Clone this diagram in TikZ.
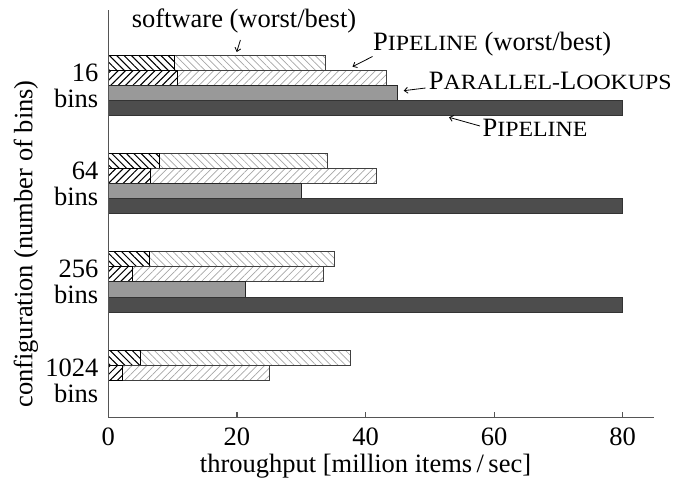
\documentclass[tikz,border=0pt]{standalone}
\usepackage{fontspec}
\setmainfont{Liberation Serif}
\usepackage{graphicx}
\usetikzlibrary{patterns.meta,arrows.meta}
\newcommand\fsc[1]{\scalebox{0.9}[0.82]{#1}}
\definecolor{pipefill}{HTML}{4D4D4D}
\definecolor{parfill}{HTML}{999999}
\definecolor{axisgray}{HTML}{555555}
\begin{document}
\begin{tikzpicture}[x=1pt,y=-1pt,
  font=\fontsize{26.5}{30}\selectfont,
  every node/.style={inner sep=0pt},
  axisline/.style={draw=axisgray,line width=1.2pt},
  lightsw/.style={draw=black!75,line width=0.8pt,pattern={Lines[angle=-45,distance=5.2pt,line width=0.7pt]},pattern color=black!35},
  darksw/.style={draw=black,line width=0.9pt,pattern={Lines[angle=-45,distance=5.2pt,line width=1pt]},pattern color=black},
  lightpl/.style={draw=black!75,line width=0.8pt,pattern={Lines[angle=45,distance=5.2pt,line width=0.7pt]},pattern color=black!35},
  darkpl/.style={draw=black,line width=0.9pt,pattern={Lines[angle=45,distance=5.2pt,line width=1pt]},pattern color=black},
  parbar/.style={draw=black!85,line width=0.9pt,fill=parfill},
  pipebar/.style={draw=black!80,line width=0.9pt,fill=pipefill},
  arr/.style={draw=black,line width=0.8pt,-{Straight Barb[length=3.5pt,width=6pt]}},
  ticklab/.style={anchor=base},
  grouplab/.style={anchor=base east}]
\useasboundingbox (0,0) rectangle (683,483);

\begin{scope}[xshift=108.3pt,x=6.43pt]
  % groups with four bars
  \foreach \t/\sw/\sb/\pw/\pb/\pa in {55/10.3/33.8/10.8/43.3/45.0,153.3/8.0/34.1/6.5/41.7/30.0,251.7/6.4/35.1/3.75/33.4/21.3}{
    \path[lightsw] (0,\t) rectangle (\sb,\t+15);
    \path[darksw] (0,\t) rectangle (\sw,\t+15);
    \path[lightpl] (0,\t+15) rectangle (\pb,\t+30);
    \path[darkpl] (0,\t+15) rectangle (\pw,\t+30);
    \path[parbar] (0,\t+30) rectangle (\pa,\t+45.5);
    \path[pipebar] (0,\t+45.5) rectangle (80,\t+60.5);
  }
  % 1024 bins
  \path[lightsw] (0,350) rectangle (37.6,365);
  \path[darksw] (0,350) rectangle (5.0,365);
  \path[lightpl] (0,365) rectangle (25.1,380);
  \path[darkpl] (0,365) rectangle (2.2,380);

  % axes
  \coordinate (ytop) at (0,10);
  \coordinate (orig) at (0,417.3);
  \coordinate (xend) at (84.9,417.3);
  \draw[axisline] (ytop) -- (orig) -- (xend);
  \foreach \v in {0,20,40,60,80}{
    \coordinate (tk\v) at (\v,417.3);
    \draw[axisline] (tk\v) -- ++(0,-5);
    \node[ticklab] (tl\v) at (\v,445) {\v};
  }
\end{scope}

% group labels
\node[grouplab] (g1a) at (98.5,81) {16};
\node[grouplab] (g1b) at (98.5,107) {bins};
\node[grouplab] (g2a) at (98.5,179.3) {64};
\node[grouplab] (g2b) at (98.5,205.3) {bins};
\node[grouplab] (g3a) at (98.5,277.7) {256};
\node[grouplab] (g3b) at (98.5,303.7) {bins};
\node[grouplab] (g4a) at (98.5,376) {1024};
\node[grouplab] (g4b) at (98.5,402) {bins};

% axis titles
\node[rotate=90] (ylab) at (26,244) {configuration (number of bins)};
\node[anchor=base] (xlab) at (365.5,472) {throughput [million items\,/\,sec]};

% annotations
\node[anchor=base] (swl) at (244,27.5) {software (worst/best)};
\coordinate (swa) at (240.4,40);
\coordinate (swb) at (236.7,52);
\draw[arr] (swa) -- (swb);

\node[anchor=base west] (plwb) at (373,50.7) {P\fsc{IPELINE} (worst/best)};
\coordinate (plwba) at (372.5,56.5);
\coordinate (plwbb) at (352.5,66.7);
\draw[arr] (plwba) -- (plwbb);

\node[anchor=base west] (parl) at (428.6,89.3) {P\fsc{ARALLEL-}L\fsc{OOKUPS}};
\coordinate (para) at (425.5,88);
\coordinate (parb) at (403.7,90.7);
\draw[arr] (para) -- (parb);

\node[anchor=base west] (pipl) at (482.4,136.7) {P\fsc{IPELINE}};
\coordinate (pipa) at (480,126);
\coordinate (pipb) at (449,117.3);
\draw[arr] (pipa) -- (pipb);
\end{tikzpicture}
\end{document}
